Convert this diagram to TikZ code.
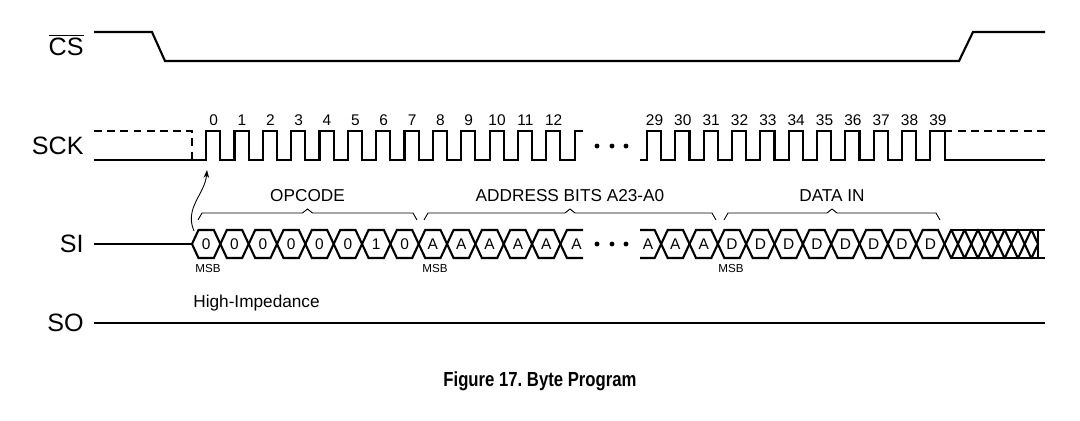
\documentclass[tikz,border=0pt]{standalone}
\usepackage{fontspec}
\setmainfont{Liberation Sans}
\usetikzlibrary{arrows.meta}

\tikzset{
  wave/.style={line width=1.2pt, line join=miter},
  thinline/.style={line width=0.5pt},
  sig/.style={anchor=east, inner sep=0pt, font=\fontsize{14.3}{16}\selectfont},
  num/.style={inner sep=0pt, font=\fontsize{8.8}{10}\selectfont},
  msb/.style={inner sep=0pt, font=\fontsize{6.6}{7}\selectfont},
  grp/.style={inner sep=0pt, font=\fontsize{9.8}{11}\selectfont},
}

\begin{document}
\begin{tikzpicture}[x=0.02cm,y=-0.02cm]
    \useasboundingbox (0,0) rectangle (1080,420);
    \def\h{14.17}
    \def\s{6.5}
    % signal names
    \node[sig] (cs) at (84,45) {$\overline{\mbox{CS}}$};
    \node[sig] (sck) at (84,146) {SCK};
    \node[sig] (si) at (84,244) {SI};
    \node[sig] (so) at (84,323) {SO};
    % chip select
    \draw[wave] (94,32) -- (152,32) -- (165,61) -- (959,61) -- (973,32) -- (1045,32);
    % clock
    \draw[wave,dash pattern=on 4.5pt off 3pt] (94,131) -- (192,131) -- (192,160);
    \draw[wave] (94,160)
    \foreach \k in {0,...,12}{
    -- ({192+\h*(2*\k+1)},160) -- ++(0,-29) -- ({192+\h*(2*\k+2)},131) -- ++(0,29) }
    -- ({192+27*\h},160) -- ++(0,-29) -- (583,131);
    \draw[wave] (640,160)
    \foreach \k in {29,...,39}{
    -- ({647+2*\h*(\k-29)},160) -- ++(0,-29) -- ({647+2*\h*(\k-29)+\h},131) -- ++(0,29) }
    -- (1045,160);
    \draw[wave,dash pattern=on 4.5pt off 3pt] ({647+21*\h},131) -- (1045,131);
    \foreach \k in {0,...,12}{ \node[num] (n\k) at ({192+\h*(2*\k+1)+7.5},120) {\k}; }
    \foreach \k in {29,...,39}{ \node[num] (n\k) at ({647+2*\h*(\k-29)+7.5},120) {\k}; }
    \foreach \x in {597,612,626}{ \fill (\x,146) circle (1.4pt); \fill (\x,244) circle (1.4pt); }
    % serial input
    \draw[wave] (94,244) -- (192,244);
    \foreach \t [count=\i] in {0,0,0,0,0,0,1,0}{
    \pgfmathsetmacro\a{192+2*\h*(\i-1)}
    \pgfmathsetmacro\b{\a+2*\h}
    \draw[wave] (\a,244) -- ({\a+\s},230) -- ({\b-\s},230) -- (\b,244) -- ({\b-\s},258) -- ({\a+\s},258) -- cycle;
    \node[num] (op\i) at ({(\a+\b)/2},244) {\t}; }
    \foreach \i in {1,...,5}{
    \pgfmathsetmacro\a{192+2*\h*(7+\i)}
    \pgfmathsetmacro\b{\a+2*\h}
    \draw[wave] (\a,244) -- ({\a+\s},230) -- ({\b-\s},230) -- (\b,244) -- ({\b-\s},258) -- ({\a+\s},258) -- cycle;
    \node[num] (ad\i) at ({(\a+\b)/2},244) {A}; }
    \pgfmathsetmacro\a{192+26*\h}
    \draw[wave] (583,230) -- ({\a+\s},230) -- (\a,244) -- ({\a+\s},258) -- (583,258);
    \node[num] (ad6) at ({\a+16},244) {A};
    \pgfmathsetmacro\b{647+\h}
    \draw[wave] (640,230) -- ({\b-\s},230) -- (\b,244) -- ({\b-\s},258) -- (640,258);
    \node[num] (ad7) at (648,244) {A};
    \foreach \t [count=\i] in {A,A,D,D,D,D,D,D,D,D}{
    \pgfmathsetmacro\a{647+\h+2*\h*(\i-1)}
    \pgfmathsetmacro\b{\a+2*\h}
    \draw[wave] (\a,244) -- ({\a+\s},230) -- ({\b-\s},230) -- (\b,244) -- ({\b-\s},258) -- ({\a+\s},258) -- cycle;
    \node[num] (rt\i) at ({(\a+\b)/2},244) {\t}; }
    % don't care
    \foreach \j in {0,...,6}{
    \pgfmathsetmacro\a{647+21*\h+13.35*\j}
    \pgfmathsetmacro\b{\a+13.35}
    \draw[wave] (\a,244) -- ({\a+\s},230) -- ({\b-\s},230) -- (\b,244) -- ({\b-\s},258) -- ({\a+\s},258) -- cycle; }
    \draw[wave] ({647+21*\h+\s},230) -- (1045,230) ({647+21*\h+\s},258) -- (1045,258) (1038,230) -- (1038,258);
    \node[msb] (m1) at (208,269) {MSB};
    \node[msb] (m2) at (435,269) {MSB};
    \node[msb] (m3) at (731,269) {MSB};
    % field braces
    \foreach \a/\b/\txt/\nm in {198/417/OPCODE/opc, 424/716/ADDRESS BITS A23-A0/adr, 724/940/DATA IN/din}{
    \pgfmathsetmacro\m{(\a+\b)/2}
    \draw[thinline] (\a,220) -- ({\a+4},213) -- ({\m-5},213) -- (\m,209) -- ({\m+5},213) -- ({\b-4},213) -- (\b,220);
    \node[grp] (\nm) at (\m,196) {\txt}; }
    % first edge samples the MSB
    \coordinate (msbin) at (194,231);
    \coordinate (clkup) at (207,170);
    \draw[thinline,-{Stealth[length=4.5pt,width=3.2pt]}] (msbin) .. controls (184,208) and (205,194) .. (clkup);
    % serial output
    \draw[wave] (94,323) -- (1045,323);
    \node[grp,anchor=west] (hiz) at (193,303) {High-Impedance};
    \node[inner sep=0pt, font=\fontsize{11.6}{13}\selectfont\bfseries] (cap) at (540,381) {\scalebox{0.82}[1]{Figure 17.\ Byte Program}};
\end{tikzpicture}
\end{document}
